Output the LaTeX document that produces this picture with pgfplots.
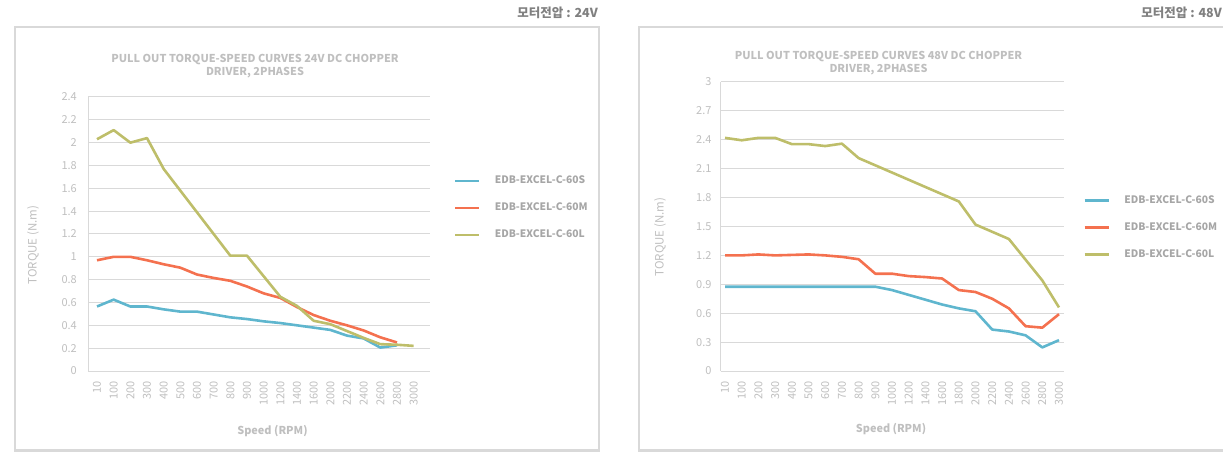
\documentclass[border=0pt]{standalone}
\usepackage{pgfplots}
\usepackage{pgfplotstable}
\pgfplotsset{compat=1.18}
\usepackage{fontspec}
\setmainfont{Noto Sans CJK KR}
\definecolor{cblue}{HTML}{5FB6CE}
\definecolor{corange}{HTML}{F4714F}
\definecolor{cgreen}{HTML}{BEBE6A}
\definecolor{gridc}{HTML}{D9D9D9}
\definecolor{boxc}{HTML}{D9D9D9}
\definecolor{tickc}{HTML}{BFBFBF}
\definecolor{legc}{HTML}{A6A6A6}
\definecolor{korc}{HTML}{808080}

\pgfplotstableread{
k  blue   orange green
0  0.565  0.97   2.03
1  0.625  1.00   2.11
2  0.565  1.00   2.00
3  0.565  0.97   2.04
4  0.54   0.935  1.77
5  0.52   0.905  1.58
6  0.52   0.845  1.39
7  0.495  0.815  1.20
8  0.47   0.79   1.01
9  0.455  0.74   1.01
10 0.435  0.68   0.83
11 0.42   0.64   0.65
12 0.40   0.56   0.57
13 0.38   0.49   0.44
14 0.36   0.44   0.41
15 0.31   0.40   0.35
16 0.285  0.355  0.29
17 0.205  0.295  0.235
18 0.225  0.25   0.23
19 nan    nan    0.22
}\lefttable

\pgfplotstableread{
k  blue   orange green
0  0.875  1.20   2.42
1  0.875  1.20   2.395
2  0.875  1.21   2.42
3  0.875  1.20   2.42
4  0.875  1.205  2.355
5  0.875  1.21   2.355
6  0.875  1.20   2.335
7  0.875  1.185  2.36
8  0.875  1.16   2.21
9  0.875  1.01   2.135
10 0.84   1.01   2.06
11 0.79   0.985  1.985
12 0.74   0.975  1.91
13 0.69   0.96   1.835
14 0.65   0.84   1.76
15 0.62   0.82   1.52
16 0.43   0.75   1.445
17 0.41   0.65   1.37
18 0.37   0.465  1.155
19 0.245  0.45   0.94
20 0.32   0.59   0.66
}\righttable

\pgfplotsset{
 torque/.style={
  scale only axis,
  axis x line*=bottom, axis y line*=left,
  axis line style={-, draw=gridc, line width=1pt},
  ymajorgrids, grid style={gridc, line width=1pt},
  major tick length=0pt, tick style={draw=none},
  /pgf/number format/assume math mode=true,
  ticklabel style={font=\fontsize{11}{13}\selectfont, text=tickc, inner sep=0pt},
  xticklabel style={rotate=90, anchor=east},
  xticklabel shift=10pt, yticklabel shift=11pt,
  every axis plot/.append style={line width=2.6pt, no marks, line join=round},
  legend cell align=left,
  legend image code/.code={\draw[##1] (0pt,0pt) -- (24pt,0pt);},
  legend style={draw=none, fill=none, inner sep=0pt, anchor=west,
    font=\bfseries\fontsize{10.3}{12}\selectfont, text=legc, row sep=17pt,
    nodes={inner sep=0pt, text height=8pt, text depth=2pt},
    /tikz/every odd column/.append style={column sep=14.5pt}},
 }
}

\begin{document}
\begin{tikzpicture}
\path[use as bounding box] (0pt,0pt) rectangle (1223pt,453pt);
% panel boxes
\draw[boxc, line width=2.5pt] (15pt,2.5pt) rectangle (599pt,426pt);
\draw[boxc, line width=2.5pt] (639pt,2.5pt) rectangle (1240pt,426pt);
% voltage labels
\node[anchor=east, inner sep=0pt, text=korc, font=\bfseries\fontsize{12.5}{14}\selectfont] at (598pt,440pt) {모터전압 : 24V};
\node[anchor=east, inner sep=0pt, text=korc, font=\bfseries\fontsize{12.5}{14}\selectfont] at (1222pt,440pt) {모터전압 : 48V};
% titles
\node[inner sep=0pt, text=tickc, font=\bfseries\fontsize{10.9}{13}\selectfont] at (255pt,393pt) {PULL OUT TORQUE-SPEED CURVES 24V DC CHOPPER};
\node[inner sep=0pt, text=tickc, font=\bfseries\fontsize{10.9}{13}\selectfont] at (255pt,380pt) {DRIVER, 2PHASES};
\node[inner sep=0pt, text=tickc, font=\bfseries\fontsize{10.9}{13}\selectfont] at (878.5pt,396pt) {PULL OUT TORQUE-SPEED CURVES 48V DC CHOPPER};
\node[inner sep=0pt, text=tickc, font=\bfseries\fontsize{10.9}{13}\selectfont] at (878.5pt,383pt) {DRIVER, 2PHASES};
% axis titles
\node[inner sep=0pt, text=tickc, font=\bfseries\fontsize{10.9}{13}\selectfont] at (272.5pt,22pt) {Speed (RPM)};
\node[inner sep=0pt, text=tickc, font=\bfseries\fontsize{10.9}{13}\selectfont] at (891pt,24pt) {Speed (RPM)};
\node[inner sep=0pt, rotate=90, text=tickc, font=\fontsize{11.5}{13}\selectfont] at (33pt,208pt) {TORQUE (N.m)};
\node[inner sep=0pt, rotate=90, text=tickc, font=\fontsize{11.5}{13}\selectfont] at (660pt,216pt) {TORQUE (N.m)};

\begin{axis}[torque, at={(88pt,82pt)}, anchor=south west,
  width=342pt, height=274pt,
  xmin=-0.54, xmax=19.98, ymin=0, ymax=2.4,
  ytick={0,0.2,0.4,0.6,0.8,1,1.2,1.4,1.6,1.8,2,2.2,2.4},
  yticklabels={0,0.2,0.4,0.6,0.8,1,1.2,1.4,1.6,1.8,2,2.2,2.4},
  xtick={0,1,2,3,4,5,6,7,8,9,10,11,12,13,14,15,16,17,18,19},
  xticklabels={10,100,200,300,400,500,600,700,800,900,1000,1200,1400,1600,2000,2200,2400,2600,2800,3000},
  legend style={at={(axis description cs:1,0.595)}, xshift=23.5pt},
]
\addplot[cblue] table[x=k, y=blue] {\lefttable};
\addlegendentry{EDB-EXCEL-C-60S}
\addplot[corange] table[x=k, y=orange] {\lefttable};
\addlegendentry{EDB-EXCEL-C-60M}
\addplot[cgreen] table[x=k, y=green] {\lefttable};
\addlegendentry{EDB-EXCEL-C-60L}
\end{axis}

\begin{axis}[torque, at={(720.7pt,82pt)}, anchor=south west,
  width=343.3pt, height=289pt,
  xmin=-0.26, xmax=20.3, ymin=0, ymax=3,
  ytick={0,0.3,0.6,0.9,1.2,1.5,1.8,2.1,2.4,2.7,3},
  yticklabels={0,0.3,0.6,0.9,1.2,1.5,1.8,2.1,2.4,2.7,3},
  yticklabel shift=9pt,
  xtick={0,1,2,3,4,5,6,7,8,9,10,11,12,13,14,15,16,17,18,19,20},
  xticklabels={10,100,200,300,400,500,600,700,800,900,1000,1200,1400,1600,1800,2000,2200,2400,2600,2800,3000},
  legend style={at={(axis description cs:1,0.497)}, xshift=19pt},
]
\addplot[cblue] table[x=k, y=blue] {\righttable};
\addlegendentry{EDB-EXCEL-C-60S}
\addplot[corange] table[x=k, y=orange] {\righttable};
\addlegendentry{EDB-EXCEL-C-60M}
\addplot[cgreen] table[x=k, y=green] {\righttable};
\addlegendentry{EDB-EXCEL-C-60L}
\end{axis}
\end{tikzpicture}
\end{document}
